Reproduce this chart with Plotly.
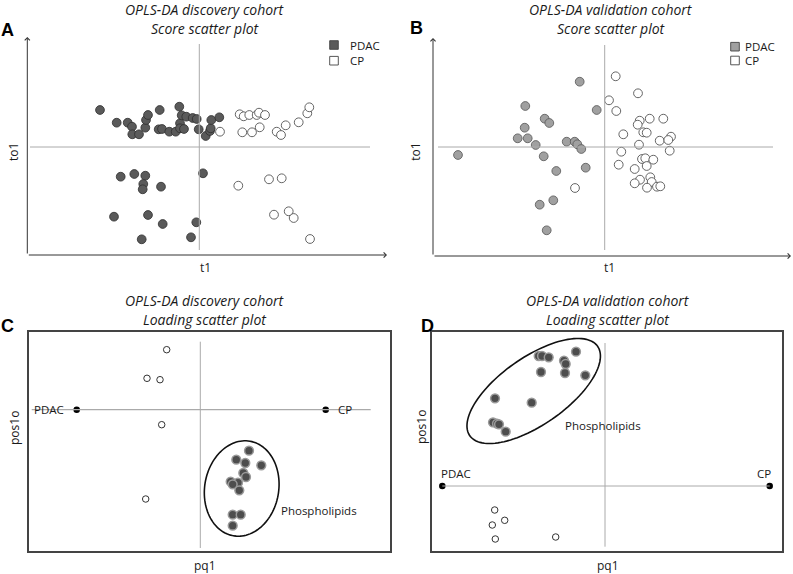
import numpy as np
import plotly.graph_objects as go

W, H = 793, 574

# ---------------- DATA ----------------
# Panel A: discovery cohort score plot (t1, to1)
a_pdac_t1 = [-9.93, -8.26, -7.16, -6.73, -6.7, -6.03, -5.4, -5.33, -5.13, -3.96, -4.06, -3.73, -3.0, -2.36,
             -2.0, -1.93, -1.93, -1.76, -1.53, -1.3, -0.66, -0.26, -0.06, 0.64, 1.07, 1.14, 1.2, 2.0,
             -7.86, -6.5, -5.4, -5.6, -5.66, -3.83, 0.37, -8.53, -5.13, -3.66, -0.3, -5.76, -0.83]
a_pdac_to1 = [3.7, 2.43, 2.43, 2.03, 1.27, 1.27, 1.93, 2.7, 3.2, 3.7, 1.77, 1.8, 1.53, 1.53,
              4.03, 2.37, 1.87, 3.17, 1.8, 3.03, 2.9, 2.8, 1.77, 1.1, 1.6, 1.87, 2.7, 2.97,
              -2.97, -2.7, -2.87, -3.7, -4.23, -3.97, -2.63, -6.97, -6.8, -7.7, -7.53, -9.23, -9.03]
a_cp_t1 = [4.04, 4.44, 5.0, 5.74, 5.97, 6.57, 2.07, 4.3, 5.27, 6.04, 7.74, 8.17, 8.64, 9.94, 10.8, 11.0,
           3.9, 6.97, 8.24, 7.47, 8.94, 9.44, 11.07]
a_cp_to1 = [3.27, 3.07, 3.2, 3.2, 3.43, 3.2, 1.53, 1.47, 1.47, 1.97, 1.53, 1.2, 2.17, 2.47, 3.37, 3.97,
            -3.87, -3.23, -3.13, -6.77, -6.43, -7.1, -9.2]

# Panel B: validation cohort score plot
b_pdac_t1 = [-14.67, -7.94, -8.0, -8.7, -7.7, -6.9, -6.0, -5.54, -6.1, -4.84, -3.8, -3.0, -2.74, -2.34,
             -2.5, -0.8, -1.9, -6.5, -5.14, -5.8]
b_pdac_to1 = [-0.8, 4.1, 1.93, 0.87, 0.87, 0.2, 2.83, 2.4, -0.93, -2.4, 0.53, 0.53, 0.27, -0.2,
              6.53, 3.7, -2.07, -5.77, -5.33, -8.33]
b_cp_t1 = [1.1, 3.33, 0.43, 1.16, 3.5, 4.5, 5.86, 3.3, 1.86, 3.86, 4.2, 6.63, 5.5, 6.36, 3.43, 1.66,
           6.5, 3.73, 4.06, 4.86, 4.2, 1.4, 3.0, 4.56, 3.53, 3.0, 4.7, 4.23, 5.23, 5.56, -2.97]
b_cp_to1 = [7.07, 5.37, 4.67, 3.6, 2.63, 2.83, 2.83, 2.23, 1.27, 1.47, 1.43, 1.03, 0.63, 0.7, 0.23, -0.47,
            -0.37, -1.2, -1.13, -1.27, -1.9, -1.77, -2.2, -3.03, -3.27, -3.63, -3.5, -4.07, -3.97, -3.93, -4.1]

# Panel C: discovery cohort loading plot (pq1, pos1o)
c_open_pq1 = [-3.36, -5.33, -4.03, -3.86, -5.46]
c_open_pos1o = [6.0, 3.14, 3.0, -1.5, -8.93]
c_phos_pq1 = [4.87, 3.6, 4.5, 6.1, 4.3, 4.57, 3.04, 3.77, 3.24, 3.9, 3.24, 4.04, 3.24]
c_phos_pos1o = [-4.1, -5.0, -5.33, -5.56, -6.33, -6.73, -7.2, -7.3, -7.46, -8.06, -10.5, -10.5, -11.6]
c_class_pq1 = [-12.36, 12.54]
c_class_pos1o = [0, 0]

# Panel D: validation cohort loading plot
d_open_pq1 = [-11.03, -10.03, -11.27, -10.97, -4.93]
d_open_pos1o = [-2.4, -3.43, -3.9, -5.3, -5.1]
d_phos_pq1 = [-6.63, -6.3, -5.63, -2.9, -4.1, -3.93, -6.4, -4.0, -1.97, -11.0, -7.33, -11.2, -10.8, -10.6, -9.93]
d_phos_pos1o = [13.0, 13.0, 12.87, 13.43, 12.53, 12.2, 11.4, 11.3, 11.07, 8.77, 8.33, 6.37, 6.23, 6.17, 5.43]
d_class_pq1 = [-16.27, 16.47]
d_class_pos1o = [0, 0]

class_labels = ["PDAC", "CP"]
legend_labels = ["PDAC", "CP"]

# ---------------- STYLE / LAYOUT HELPERS ----------------
FONT = "Open Sans"
TXT = "#1a1a1a"
def px(x):
    return x / W
def py(y):
    return 1 - y / H

fig = go.Figure()

# panel geometry in pixels: box=(x0, x1, y0, y1), c = pixel location of origin; 10 px per unit
panels = {
    "A": dict(ax="x", ay="y", box=(27.3, 387, 37, 255), c=(199.3, 147)),
    "B": dict(ax="x2", ay="y2", box=(433, 791, 38, 256), c=(604.7, 147)),
    "C": dict(ax="x3", ay="y3", box=(29.3, 390, 331.7, 550.7), c=(200.3, 409.7)),
    "D": dict(ax="x4", ay="y4", box=(432.3, 782.3, 331.7, 550.7), c=(605, 486)),
}
SCALE = 10.0

for i, (k, p) in enumerate(panels.items()):
    x0, x1, y0, y1 = p["box"]
    cx, cy = p["c"]
    xr = [(x0 - cx) / SCALE, (x1 - cx) / SCALE]
    yr = [(cy - y1) / SCALE, (cy - y0) / SCALE]
    boxed = k in ("C", "D")
    suffix = "" if i == 0 else str(i + 1)
    fig.layout["xaxis" + suffix] = dict(domain=[px(x0), px(x1)], range=xr, showgrid=False, zeroline=False,
                                        showticklabels=False, ticks="", showline=boxed, mirror=boxed,
                                        linecolor="#444", linewidth=1.5, fixedrange=True,
                                        anchor="y" + suffix)
    fig.layout["yaxis" + suffix] = dict(domain=[py(y1), py(y0)], range=yr, showgrid=False, zeroline=False,
                                        showticklabels=False, ticks="", showline=boxed, mirror=boxed,
                                        linecolor="#444", linewidth=1.5, fixedrange=True,
                                        anchor="x" + suffix)

# crosshair lines (data coords)
cross = {
    "A": ([-16.93, 17.07], [10.3, -10.3]),
    "B": ([-16.67, 16.83], [10.2, -10.3]),
    "C": ([-16.86, 17.04], [6.8, -13.83]),
    "D": ([-16.27, 16.47], [14.3, -6.07]),
}
for k, (hx, vy) in cross.items():
    p = panels[k]
    col = "#aaaaaa"
    fig.add_shape(type="line", xref=p["ax"], yref=p["ay"], x0=hx[0], x1=hx[1], y0=0, y1=0,
                  line=dict(color=col, width=1.2 if k == "C" else 1))
    fig.add_shape(type="line", xref=p["ax"], yref=p["ay"], x0=0, x1=0, y0=vy[0], y1=vy[1],
                  line=dict(color=col, width=1))

# ellipses around phospholipids
def ellipse_path(cx, cy, a, b, ang_deg, n=120):
    t = np.linspace(0, 2 * np.pi, n)
    th = np.deg2rad(ang_deg)
    xs = cx + a * np.cos(t) * np.cos(th) - b * np.sin(t) * np.sin(th)
    ys = cy + a * np.cos(t) * np.sin(th) + b * np.sin(t) * np.cos(th)
    return "M " + " L ".join(f"{x:.3f},{y:.3f}" for x, y in zip(xs, ys)) + " Z"

fig.add_shape(type="path", xref="x3", yref="y3", path=ellipse_path(4.14, -7.88, 4.8, 3.7, 80),
              line=dict(color="#111", width=1.6))
fig.add_shape(type="path", xref="x4", yref="y4", path=ellipse_path(-7.13, 9.5, 7.8, 3.36, 35),
              line=dict(color="#111", width=1.6))

# ---------------- TRACES ----------------
def sc(x, y, ax, ay, size, fill, lc, lw):
    fig.add_trace(go.Scatter(x=x, y=y, xaxis=ax, yaxis=ay, mode="markers", showlegend=False,
                             hoverinfo="skip",
                             marker=dict(size=size, color=fill, line=dict(color=lc, width=lw))))

sc(a_pdac_t1, a_pdac_to1, "x", "y", 8.8, "#5a5a5a", "#2e2e2e", 0.8)
sc(a_cp_t1, a_cp_to1, "x", "y", 8.8, "white", "#555555", 0.9)
sc(b_pdac_t1, b_pdac_to1, "x2", "y2", 8.8, "#a0a0a0", "#555555", 0.8)
sc(b_cp_t1, b_cp_to1, "x2", "y2", 8.8, "white", "#555555", 0.9)

sc(c_open_pq1, c_open_pos1o, "x3", "y3", 6.5, "white", "#333333", 1)
sc(c_phos_pq1, c_phos_pos1o, "x3", "y3", 8.8, "#4d4d4d", "#9a9a9a", 1.5)
sc(c_class_pq1, c_class_pos1o, "x3", "y3", 6.5, "black", "black", 0)

sc(d_open_pq1, d_open_pos1o, "x4", "y4", 6.5, "white", "#333333", 1)
sc(d_phos_pq1, d_phos_pos1o, "x4", "y4", 8.8, "#4d4d4d", "#9a9a9a", 1.5)
sc(d_class_pq1, d_class_pos1o, "x4", "y4", 6.5, "black", "black", 0)

# ---------------- ANNOTATIONS ----------------
ann = []
def txt(text, x, y, size=11, xanchor="center", yanchor="middle", **kw):
    d = dict(text=text, x=px(x), y=py(y), xref="paper", yref="paper", showarrow=False,
             xanchor=xanchor, yanchor=yanchor, font=dict(family=FONT, size=size, color=TXT))
    d.update(kw)
    ann.append(d)

# titles
titles = [("OPLS-DA discovery cohort", "Score scatter plot", 205, 10, 28),
          ("OPLS-DA validation cohort", "Score scatter plot", 611.3, 10, 28),
          ("OPLS-DA discovery cohort", "Loading scatter plot", 205, 300, 319),
          ("OPLS-DA validation cohort", "Loading scatter plot", 608, 300, 319)]
for t1_, t2_, x, y1_, y2_ in titles:
    txt("<i>" + t1_ + "</i>", x, y1_, size=14)
    txt("<i>" + t2_ + "</i>", x, y2_, size=14)

# panel letters
for L, x, y in [("A", 7.5, 30), ("B", 416, 28), ("C", 7.5, 326), ("D", 427, 326)]:
    ann.append(dict(text="<b>" + L + "</b>", x=px(x), y=py(y), xref="paper", yref="paper", showarrow=False,
                    xanchor="center", yanchor="middle",
                    font=dict(family="Liberation Sans", size=18, color="black")))

# axis labels
for lab, x, y, rot in [("to1", 13, 152, -90), ("t1", 205, 268, 0),
                       ("to1", 414.7, 152, -90), ("t1", 609.7, 268, 0),
                       ("pos1o", 14, 428, -90), ("pq1", 204.7, 565, 0),
                       ("pos1o", 421.3, 426.7, -90), ("pq1", 608, 565, 0)]:
    txt(lab, x, y, size=12, textangle=rot)

# axis arrows for A and B
for (hx, hy, tx, ty) in [(27.3, 37, 27.3, 255), (387, 255, 27.3, 255),
                         (433, 38, 433, 256), (791, 256, 433, 256)]:
    ann.append(dict(x=px(hx), y=py(hy), xref="paper", yref="paper", ax=tx - hx, ay=ty - hy,
                    axref="pixel", ayref="pixel", showarrow=True, arrowhead=4, arrowsize=1,
                    arrowwidth=1, arrowcolor="#333", text=""))

# class labels in loading plots
lf = dict(family=FONT, size=11.5, color=TXT)
ann.append(dict(text=class_labels[0], x=-13.4, y=0, xref="x3", yref="y3", showarrow=False,
                xanchor="right", yanchor="middle", font=lf))
ann.append(dict(text=class_labels[1], x=13.6, y=0, xref="x3", yref="y3", showarrow=False,
                xanchor="left", yanchor="middle", font=lf))
ann.append(dict(text=class_labels[0], x=-14.87, y=1.27, xref="x4", yref="y4", showarrow=False,
                xanchor="center", yanchor="middle", font=lf))
ann.append(dict(text=class_labels[1], x=15.87, y=1.27, xref="x4", yref="y4", showarrow=False,
                xanchor="center", yanchor="middle", font=lf))
ann.append(dict(text="Phospholipids", x=7.9, y=-10.1, xref="x3", yref="y3", showarrow=False,
                xanchor="left", yanchor="middle", font=lf))
ann.append(dict(text="Phospholipids", x=-0.17, y=6.0, xref="x4", yref="y4", showarrow=False,
                xanchor="center", yanchor="middle", font=lf))

# legends for A and B (square swatches + labels)
for (sx, sy0, sy1, tx, fillc) in [(334, 45, 60.7, 348, "#5a5a5a"), (735, 46.7, 60.5, 743, "#a0a0a0")]:
    for sy, f, lab in [(sy0, fillc, legend_labels[0]), (sy1, "white", legend_labels[1])]:
        fig.add_shape(type="rect", xref="paper", yref="paper",
                      x0=px(sx - 4.3), x1=px(sx + 4.3), y0=py(sy + 4.3), y1=py(sy - 4.3),
                      fillcolor=f, line=dict(color="#444", width=0.9))
        txt(lab, tx, sy, size=11.5, xanchor="left")

fig.update_layout(width=W, height=H, margin=dict(l=0, r=0, t=0, b=0),
                  paper_bgcolor="white", plot_bgcolor="white", annotations=ann,
                  font=dict(family=FONT))

# remove the default page margin so the figure sits at the window's top-left corner
fig.write_html("out.html", config={"displayModeBar": False},
               post_script="document.body.style.margin='0';document.body.style.padding='0';"
                           "document.documentElement.style.overflow='hidden';")
